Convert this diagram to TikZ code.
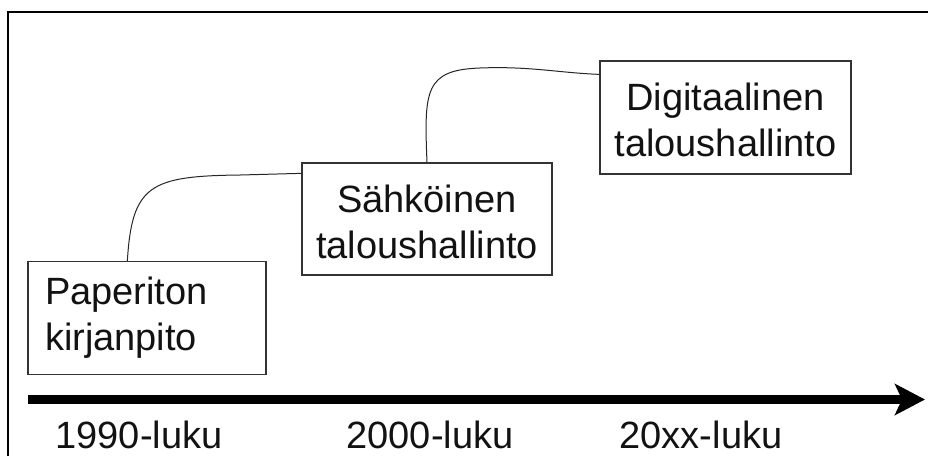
\documentclass[tikz,border=0pt]{standalone}
\usepackage{fontspec}
\setmainfont{Liberation Sans}
\usetikzlibrary{arrows.meta}
\begin{document}
\begin{tikzpicture}[x=1pt,y=-1pt,
  txt/.style={font=\fontsize{38}{46}\selectfont, text=black!93},
  stagebox/.style={txt, draw=black!80, line width=1.3pt, inner sep=0pt, minimum height=113pt},
  link/.style={draw=black!85, line width=1pt},
  yearlbl/.style={txt, anchor=base, inner sep=0pt}]
\useasboundingbox (0,0) rectangle (928,456);
% frame
\draw[line width=2pt] (8,456) -- (8,12) -- (928,12);
% boxes
\node[stagebox, minimum width=238pt, text width=204pt, inner xsep=17pt, align=left] (b1) at (147,318) {Paperiton\\kirjanpito};
\node[stagebox, minimum width=250pt, minimum height=112pt, align=center] (b2) at (427,219) {\rule{0pt}{33pt}Sähköinen\\taloushallinto};
\node[stagebox, minimum width=251pt, align=center] (b3) at (725.5,117.5) {\rule{0pt}{33pt}Digitaalinen\\taloushallinto};
% connectors
\draw[link] ([xshift=100pt]b1.north west) .. controls (132,185) and (150,176) .. (240,175) -- ([yshift=-11pt]b2.north west);
\draw[link] (b2.north) .. controls (424,90) and (425,70) .. (480,68) .. controls (530,66) and (560,73) .. ([yshift=-14pt]b3.north west);
% timeline
\coordinate (tl0) at (28,399.5);
\coordinate (tl1) at (925,399.5);
\draw[line width=9pt, -{Stealth[length=30pt,width=31pt,inset=7pt]}] (tl0) -- (tl1);
\node[yearlbl] (y1) at (139,448) {1990-luku};
\node[yearlbl] (y2) at (430,448) {2000-luku};
\node[yearlbl] (y3) at (701,448) {20xx-luku};
\end{tikzpicture}
\end{document}
